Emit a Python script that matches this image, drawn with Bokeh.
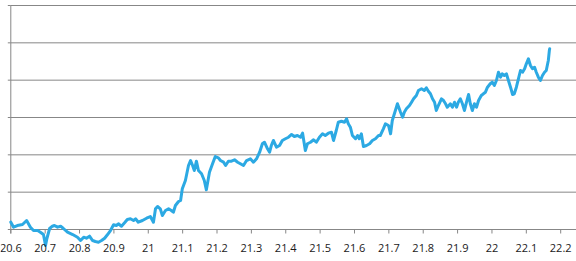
from bokeh.plotting import figure
from bokeh.models import Range1d
from bokeh.embed import file_html
from bokeh.resources import INLINE
from bokeh.core.properties import value

# ---- data ----
x_vals = [20.600, 20.608, 20.619, 20.634, 20.646, 20.657, 20.666, 20.678, 20.686, 20.695,
          20.701, 20.705, 20.713, 20.721, 20.727, 20.736, 20.745, 20.753, 20.765, 20.780,
          20.794, 20.803, 20.812, 20.820, 20.829, 20.838, 20.846, 20.855, 20.864, 20.873,
          20.881, 20.890, 20.899, 20.907, 20.913, 20.922, 20.931, 20.939, 20.948, 20.957,
          20.963, 20.971, 20.983, 20.995, 21.006, 21.015, 21.021, 21.027, 21.035, 21.041,
          21.050, 21.059, 21.067, 21.073, 21.079, 21.088, 21.094, 21.099, 21.108, 21.117,
          21.123, 21.129, 21.134, 21.140, 21.146, 21.155, 21.163, 21.169, 21.178, 21.187,
          21.195, 21.204, 21.210, 21.219, 21.225, 21.233, 21.242, 21.251, 21.260, 21.268,
          21.277, 21.286, 21.297, 21.306, 21.315, 21.324, 21.332, 21.338, 21.347, 21.353,
          21.358, 21.364, 21.373, 21.382, 21.390, 21.399, 21.408, 21.417, 21.425, 21.434,
          21.443, 21.449, 21.457, 21.463, 21.472, 21.481, 21.489, 21.498, 21.507, 21.515,
          21.524, 21.533, 21.539, 21.547, 21.553, 21.562, 21.571, 21.577, 21.582, 21.588,
          21.594, 21.603, 21.609, 21.614, 21.620, 21.626, 21.635, 21.644, 21.652, 21.661,
          21.670, 21.675, 21.684, 21.690, 21.699, 21.705, 21.710, 21.719, 21.725, 21.734,
          21.740, 21.745, 21.751, 21.760, 21.766, 21.772, 21.780, 21.786, 21.795, 21.803,
          21.809, 21.815, 21.821, 21.827, 21.833, 21.838, 21.844, 21.853, 21.859, 21.865,
          21.870, 21.879, 21.885, 21.891, 21.897, 21.902, 21.908, 21.914, 21.920, 21.926,
          21.932, 21.937, 21.943, 21.949, 21.955, 21.961, 21.969, 21.975, 21.981, 21.987,
          21.995, 22.001, 22.007, 22.013, 22.019, 22.025, 22.030, 22.036, 22.042, 22.048,
          22.054, 22.060, 22.065, 22.071, 22.077, 22.083, 22.089, 22.095, 22.100, 22.106,
          22.112, 22.118, 22.124, 22.129, 22.135, 22.141, 22.147, 22.153, 22.158, 22.161,
          22.164, 22.167, 22.168]
y_vals = [1.96, 0.62, 1.07, 1.34, 2.41, 0.62, -0.27, -0.27, -0.72, -1.34,
          -4.29, -2.41, 0.27, 0.88, 1.07, 0.62, 0.88, 0.27, -0.72, -1.34,
          -2.06, -2.95, -2.06, -2.33, -1.79, -2.95, -3.21, -3.40, -2.95, -2.33,
          -1.42, -0.27, 1.26, 1.07, 1.53, 0.88, 1.79, 2.68, 2.87, 2.41,
          2.87, 1.96, 2.41, 3.03, 3.48, 1.96, 5.54, 6.16, 5.54, 3.75,
          5.09, 5.54, 5.09, 4.63, 6.43, 7.50, 7.77, 10.90, 13.13, 17.14,
          18.48, 17.14, 15.80, 18.30, 15.80, 14.92, 13.13, 10.63, 15.35, 17.60,
          19.55, 19.21, 18.48, 18.03, 17.14, 18.30, 18.30, 18.67, 18.03, 17.60,
          17.14, 18.48, 18.94, 18.03, 18.94, 20.71, 22.96, 23.38, 21.62, 20.71,
          22.50, 23.84, 22.05, 22.50, 23.84, 24.30, 24.72, 25.45, 24.91, 25.18,
          24.72, 25.80, 21.16, 22.96, 23.38, 24.03, 23.38, 24.72, 25.63, 25.18,
          25.80, 26.06, 23.84, 26.52, 28.74, 29.01, 28.74, 29.65, 28.31, 27.40,
          25.18, 24.30, 25.18, 24.30, 25.63, 22.23, 22.50, 22.96, 23.84, 24.30,
          25.18, 25.18, 26.97, 28.31, 27.86, 25.63, 29.20, 31.88, 33.67, 31.42,
          30.08, 31.42, 32.33, 33.21, 34.10, 35.01, 35.89, 37.23, 37.69, 37.23,
          37.96, 37.04, 36.35, 35.01, 34.10, 31.88, 33.21, 35.01, 34.55, 33.67,
          32.76, 33.67, 32.76, 34.10, 32.76, 34.10, 35.01, 33.67, 31.88, 34.10,
          36.16, 33.67, 31.88, 33.67, 32.76, 34.55, 35.89, 36.35, 36.78, 38.12,
          39.03, 39.46, 38.57, 39.91, 42.13, 40.80, 41.71, 41.25, 41.71, 39.91,
          38.12, 36.16, 36.35, 38.12, 40.37, 42.59, 42.13, 43.05, 44.38, 45.72,
          43.93, 43.05, 43.47, 42.13, 40.80, 39.91, 41.25, 42.13, 42.59, 43.93,
          45.27, 47.95, 48.40]

x_ticks = [20.6, 20.7, 20.8, 20.9, 21.0, 21.1, 21.2, 21.3, 21.4, 21.5,
           21.6, 21.7, 21.8, 21.9, 22.0, 22.1, 22.2]
x_tick_labels = ["20.6", "20.7", "20.8", "20.9", "21", "21.1", "21.2", "21.3", "21.4",
                 "21.5", "21.6", "21.7", "21.8", "21.9", "22", "22.1", "22.2"]
y_grid = [0, 10, 20, 30, 40, 50, 60]

# ---- layout constants ----
W, H = 576, 261
X0, X1 = 20.570, 22.246
Y0, Y1 = -8.57, 61.34
px_x = (X1 - X0) / W
px_y = (Y1 - Y0) / H
GRID = "#878787"

p = figure(width=W, height=H, output_backend="svg", toolbar_location=None,
           x_range=Range1d(X0, X1), y_range=Range1d(Y0, Y1),
           x_axis_type=None, y_axis_type=None, min_border=0,
           outline_line_color=None, background_fill_color="white",
           border_fill_color="white")
p.grid.visible = False

axis_x = x_ticks[0]
# horizontal gridlines
p.segment(x0=[axis_x] * len(y_grid), y0=y_grid, x1=[X1] * len(y_grid), y1=y_grid,
          line_color=GRID, line_width=1)
# left tick marks
p.segment(x0=[axis_x - 3 * px_x] * len(y_grid), y0=y_grid, x1=[axis_x] * len(y_grid), y1=y_grid,
          line_color=GRID, line_width=1)
# left axis line
p.segment(x0=[axis_x], y0=[y_grid[-1]], x1=[axis_x], y1=[y_grid[0] - 4 * px_y],
          line_color=GRID, line_width=1)
# bottom tick marks
p.segment(x0=x_ticks, y0=[y_grid[0]] * len(x_ticks), x1=x_ticks,
          y1=[y_grid[0] - 4 * px_y] * len(x_ticks), line_color=GRID, line_width=1)

# data line
p.line(x_vals, y_vals, line_color="#2CA9E3", line_width=3, line_join="round", line_cap="round")

# tick labels
p.text(x=x_ticks, y=[y_grid[0]] * len(x_ticks), text=x_tick_labels,
       y_offset=18.5, text_align="center", text_baseline="middle",
       text_font=value("Open Sans"), text_font_size="11px", text_color="#1a1a1a")

open("out.html", "w").write(file_html(p, INLINE))
